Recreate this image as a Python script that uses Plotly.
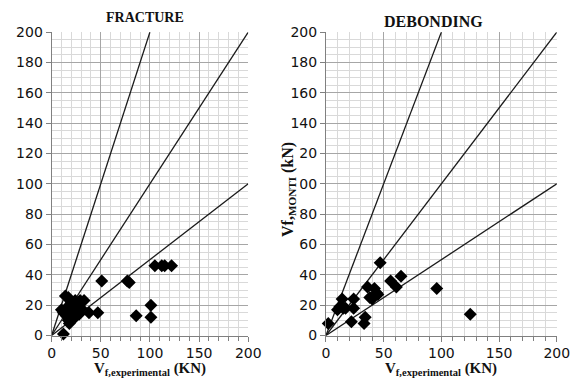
import plotly.graph_objects as go

# Reference lines (ratio lines y = k*x)
ratio_factors = [2.0, 1.0, 0.5]

# FRACTURE data
frac_x = [12, 14, 17, 20, 24, 29, 33, 10, 12, 15, 17, 18, 20, 22, 23, 25, 26, 28, 30, 20, 18, 24, 27, 15,
          38, 47, 51, 77, 79, 86, 101, 101, 105, 112, 115, 122]
frac_y = [1, 26, 25, 22, 23, 23, 23, 17, 15, 13, 10, 8, 12, 15, 18, 16, 20, 14, 18, 18, 20, 12, 17, 18,
          15, 15, 36, 36, 35, 13, 20, 12, 46, 46, 46, 46]

# DEBONDING data
deb_x = [2, 10, 12, 14, 15, 17, 22, 24, 24, 33, 34, 36, 38, 40, 42, 44, 45, 47, 56, 61, 65, 96, 125]
deb_y = [8, 17, 19, 24, 18, 18, 9, 24, 18, 8, 12, 32, 25, 24, 31, 28, 27, 48, 36, 32, 39, 31, 14]

x_ticks = [0, 50, 100, 150, 200]
y_ticks = [0, 20, 40, 60, 80, 100, 120, 140, 160, 180, 200]

fig = go.Figure()

for xa, ya, xs, ys in [("x", "y", frac_x, frac_y), ("x2", "y2", deb_x, deb_y)]:
    for k in ratio_factors:
        xe = min(200, 200 / k)
        fig.add_trace(go.Scatter(x=[0, xe], y=[0, k * xe], mode="lines",
                                 line=dict(color="#1a1a1a", width=1.3),
                                 xaxis=xa, yaxis=ya, showlegend=False, hoverinfo="skip"))
    fig.add_trace(go.Scatter(x=xs, y=ys, mode="markers",
                             marker=dict(symbol="diamond", size=10, color="black"),
                             xaxis=xa, yaxis=ya, showlegend=False, cliponaxis=False))

tickfont = dict(family="DejaVu Sans, Noto Sans, Arial", size=14, color="#111")

def xax(domain, anchor):
    return dict(domain=domain, anchor=anchor, range=[0, 200], tickvals=x_ticks,
                showgrid=True, gridcolor="#a6a6a6", gridwidth=1,
                minor=dict(dtick=10, showgrid=True, gridcolor="#d9d9d9", gridwidth=1,
                           ticks="outside", ticklen=4, tickcolor="#808080"),
                ticks="outside", ticklen=5, tickcolor="#808080",
                showline=True, linecolor="#808080", linewidth=1, zeroline=False,
                tickfont=tickfont, fixedrange=True, automargin=False)

def yax(anchor):
    return dict(domain=[0.1124, 0.915], anchor=anchor, range=[0, 200], tickvals=y_ticks,
                showgrid=True, gridcolor="#a6a6a6", gridwidth=1,
                minor=dict(dtick=5, showgrid=True, gridcolor="#d9d9d9", gridwidth=1),
                ticks="outside", ticklen=5, tickcolor="#808080",
                showline=True, linecolor="#808080", linewidth=1, zeroline=False,
                tickfont=tickfont, fixedrange=True, automargin=False)

fig.update_layout(
    width=580, height=378, autosize=False,
    margin=dict(l=0, r=0, t=0, b=0, pad=0, autoexpand=False),
    paper_bgcolor="white", plot_bgcolor="white",
    xaxis=xax([0.089, 0.428], "y"),
    yaxis=yax("x"),
    xaxis2=xax([0.562, 0.960], "y2"),
    yaxis2=yax("x2"),
)

serif = "Liberation Serif, Times New Roman, serif"
annots = [
    dict(text="<b>FRACTURE</b>", x=145, y=17, font=dict(family=serif, size=14, color="#111")),
    dict(text="<b>DEBONDING</b>", x=433, y=21, font=dict(family=serif, size=16, color="#111")),
    dict(text="<b>V<sub>f,experimental</sub> (KN)</b>", x=150, y=369, font=dict(family=serif, size=15, color="#111")),
    dict(text="<b>V<sub>f,experimental</sub> (KN)</b>", x=441, y=369, font=dict(family=serif, size=15, color="#111")),
]
for a in annots:
    fig.add_annotation(text=a["text"], x=a["x"] / 580, y=1 - a["y"] / 378, xref="paper", yref="paper",
                       showarrow=False, font=a["font"], xanchor="center", yanchor="middle")

fig.add_annotation(text="<b>Vf,<sub>MONTI</sub> (kN)</b>", x=288 / 580, y=1 - 190 / 378,
                   xref="paper", yref="paper", showarrow=False, textangle=-90,
                   font=dict(family=serif, size=16, color="#111"), bgcolor="white",
                   xanchor="center", yanchor="middle")

fig.write_html("out.html")
